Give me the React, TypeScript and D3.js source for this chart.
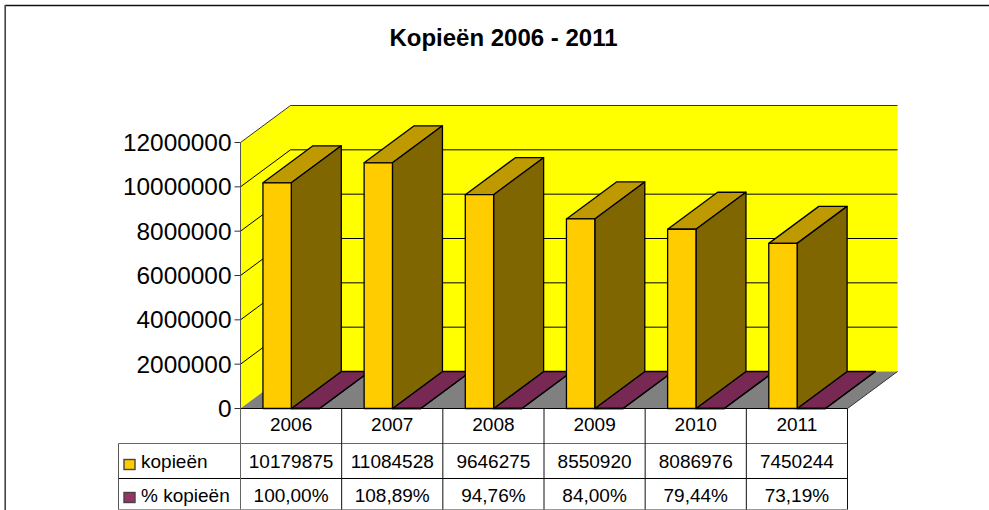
import React from "react";
import * as d3 from "d3";

const years = ["2006", "2007", "2008", "2009", "2010", "2011"];
const kopieen = [10179875, 11084528, 9646275, 8550920, 8086976, 7450244];
const kopieenLabels = ["10179875", "11084528", "9646275", "8550920", "8086976", "7450244"];
const percent = [100.0, 108.89, 94.76, 84.0, 79.44, 73.19];
const percentLabels = ["100,00%", "108,89%", "94,76%", "84,00%", "79,44%", "73,19%"];
const ticks = [0, 2000000, 4000000, 6000000, 8000000, 10000000, 12000000];

const FONT = "'Liberation Sans', Arial, sans-serif";
const depthX = 50;
const depthY = 37;

const x = d3.scaleBand<string>().domain(years).range([240.5, 847.5]).paddingInner(0).paddingOuter(0);
const y = d3.scaleLinear().domain([0, 12000000]).range([408.5, 142.5]);
const backRight = 897.5;

// front face of a bar plus its top and side, depth is the fake 3d offset
function Bar3d({ x0, w, top, base, front, topFill, side }: { x0: number; w: number; top: number; base: number; front: string; topFill: string; side: string }) {
    const x1 = x0 + w;
    return (
        <g stroke="#000" strokeWidth={1.3} strokeLinejoin="round">
            <polygon points={`${x0},${top} ${x0 + depthX},${top - depthY} ${x1 + depthX},${top - depthY} ${x1},${top}`} fill={topFill} />
            <polygon points={`${x1},${top} ${x1 + depthX},${top - depthY} ${x1 + depthX},${base - depthY} ${x1},${base}`} fill={side} />
            <rect x={x0} y={top} width={w} height={base - top} fill={front} />
        </g>
    );
}

export default function App() {
    const y0 = y(0);
    const left = x.range()[0];
    const right = x.range()[1];
    const band = x.bandwidth();
    const barW = band * 0.28;
    const barOffset = band * 0.222;
    const rows = [443.5, 478.5, 509.5];

    return (
        <svg width={989} height={510} style={{ position: "absolute", left: 0, top: 0, background: "#fff" }} fontFamily={FONT}>
            <line x1={5} x2={989} y1={5.5} y2={5.5} stroke="#111" strokeWidth={1.3} />
            <line x1={5.2} x2={5.2} y1={5} y2={510} stroke="#444" strokeWidth={1.6} />
            <text x={503.5} y={46} textAnchor="middle" fontSize={24} fontWeight="bold">Kopieën 2006 - 2011</text>

            {/* walls and floor */}
            <polygon points={`${left},${y(12000000)} ${left + depthX},${y(12000000) - depthY} ${backRight},${y(12000000) - depthY} ${backRight},${y0 - depthY} ${left + depthX},${y0 - depthY} ${left},${y0}`} fill="#ffff00" />
            <polygon points={`${left},${y0} ${left + depthX},${y0 - depthY} ${backRight},${y0 - depthY} ${right},${y0}`} fill="#808080" />
            <path d={`M${left},${y(12000000)}L${left + depthX},${y(12000000) - depthY}H${backRight}`} fill="none" stroke="#333" strokeWidth={1} />
            <path d={`M${right},${y0}L${backRight},${y0 - depthY}`} stroke="#333" strokeWidth={1} fill="none" />

            {ticks.slice(1, -1).map((t) => (
                <path key={t} d={`M${left},${y(t)}L${left + depthX},${y(t) - depthY}H${backRight}`} fill="none" stroke="#000" strokeWidth={1} />
            ))}

            {/* second series sits flat on the floor, its values are too small to see */}
            {years.map((yr, i) => {
                const x0 = (x(yr) as number) + barOffset;
                return <Bar3d key={yr} x0={x0 + barW} w={barW} top={y(percent[i])} base={y0} front="#772953" topFill="#772953" side="#772953" />;
            })}
            {years.map((yr, i) => {
                const x0 = (x(yr) as number) + barOffset;
                return <Bar3d key={yr} x0={x0} w={barW} top={y(kopieen[i])} base={y0} front="#ffcc00" topFill="#bf9900" side="#806600" />;
            })}

            {/* value axis */}
            <line x1={left} x2={left} y1={y(12000000)} y2={y0} stroke="#555" />
            {ticks.map((t) => (
                <g key={t}>
                    <line x1={left - 6} x2={left} y1={y(t)} y2={y(t)} stroke="#333" />
                    <text x={231.5} y={y(t) + 8.5} textAnchor="end" fontSize={24.4} fill="#000">{t}</text>
                </g>
            ))}

            {/* data table */}
            <g stroke="#333" strokeWidth={1} fill="none">
                <line x1={left} x2={right} y1={y0} y2={y0} stroke="#000" />
                <line x1={118.5} x2={right} y1={rows[0]} y2={rows[0]} stroke="#666" />
                <line x1={118.5} x2={right} y1={rows[1]} y2={rows[1]} stroke="#000" />
                <line x1={118.5} x2={right} y1={rows[2]} y2={rows[2]} stroke="#999" />
                <line x1={118.5} x2={118.5} y1={rows[0]} y2={rows[2]} stroke="#555" />
                <line x1={left} x2={left} y1={y0} y2={rows[2]} stroke="#666" />
                {years.map((yr) => (
                    <line key={yr} x1={(x(yr) as number) + band} x2={(x(yr) as number) + band} y1={y0} y2={rows[2]} stroke="#111" />
                ))}
            </g>
            {years.map((yr, i) => {
                const cx = (x(yr) as number) + band / 2;
                return (
                    <g key={yr} textAnchor="middle" fontSize={19}>
                        <text x={cx} y={431}>{yr}</text>
                        <text x={cx} y={467.5}>{kopieenLabels[i]}</text>
                        <text x={cx} y={502}>{percentLabels[i]}</text>
                    </g>
                );
            })}
            <rect x={124} y={459.5} width={11} height={10} fill="#ffcc00" stroke="#444" strokeWidth={1.4} />
            <text x={141} y={467.5} fontSize={19}>kopieën</text>
            <rect x={124} y={492.5} width={11} height={10} fill="#993366" stroke="#444" strokeWidth={1.4} />
            <text x={141} y={502} fontSize={19}>% kopieën</text>
        </svg>
    );
}
